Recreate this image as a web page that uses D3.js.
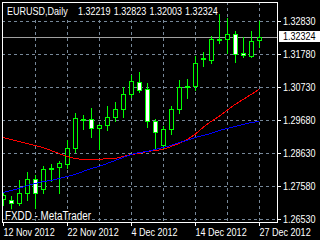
<!DOCTYPE html>
<html>
<head>
<meta charset="utf-8">
<script src="https://cdn.jsdelivr.net/npm/d3@7"></script>
<style>
  html, body { margin: 0; padding: 0; background: #000; overflow: hidden; }
  svg { display: block; }
  text { font-family: "Liberation Sans Narrow", "Arial Narrow", "Liberation Sans", Arial, sans-serif; }
</style>
</head>
<body>
<svg></svg>
<script>
// daily bars, EURUSD
const dates = [
  "2012-11-12", "2012-11-13", "2012-11-14", "2012-11-15", "2012-11-16",
  "2012-11-19", "2012-11-20", "2012-11-21", "2012-11-22", "2012-11-23",
  "2012-11-26", "2012-11-27", "2012-11-28", "2012-11-29", "2012-11-30",
  "2012-12-03", "2012-12-04", "2012-12-05", "2012-12-06", "2012-12-07",
  "2012-12-10", "2012-12-11", "2012-12-12", "2012-12-13", "2012-12-14",
  "2012-12-17", "2012-12-18", "2012-12-19", "2012-12-20", "2012-12-21",
  "2012-12-24", "2012-12-26", "2012-12-27"
];
const open = [
  1.27175, 1.27127, 1.27048, 1.27366, 1.27810, 1.27494, 1.28121, 1.28192, 1.28287, 1.28795,
  1.29680, 1.29717, 1.29431, 1.29526, 1.29780, 1.30034, 1.30511, 1.30892, 1.30670, 1.29653,
  1.28890, 1.29399, 1.30034, 1.30730, 1.30765, 1.31621, 1.31591, 1.32225, 1.32258, 1.32417,
  1.31813, 1.31718, 1.32219
];
const high = [
  1.27397, 1.27270, 1.27779, 1.28033, 1.27938, 1.28223, 1.28287, 1.28382, 1.29050, 1.29907,
  1.29844, 1.30066, 1.29558, 1.30130, 1.30257, 1.30733, 1.31114, 1.31210, 1.30860, 1.29717,
  1.29494, 1.30130, 1.30956, 1.30987, 1.31718, 1.31845, 1.32353, 1.33052, 1.32925, 1.32512,
  1.32322, 1.32512, 1.32823
];
const low = [
  1.26985, 1.26826, 1.26985, 1.27143, 1.26890, 1.27366, 1.27747, 1.27366, 1.28160, 1.28669,
  1.29399, 1.29145, 1.28764, 1.29367, 1.29653, 1.29780, 1.30416, 1.30574, 1.29462, 1.28795,
  1.28764, 1.29240, 1.29907, 1.30384, 1.30638, 1.31400, 1.31496, 1.32131, 1.31813, 1.31527,
  1.31686, 1.31686, 1.32003
];
const close = [
  1.27302, 1.27048, 1.27366, 1.27810, 1.27366, 1.28128, 1.28153, 1.28319, 1.28795, 1.29748,
  1.29712, 1.29431, 1.29526, 1.29780, 1.30034, 1.30511, 1.30924, 1.30638, 1.29653, 1.29303,
  1.29399, 1.30034, 1.30733, 1.30762, 1.31496, 1.31653, 1.32258, 1.32257, 1.32417, 1.31782,
  1.31734, 1.32195, 1.32324
];
// moving averages
const maRed = [
  1.29145, 1.29081, 1.29018, 1.28954, 1.28891, 1.28827, 1.28732, 1.28636, 1.28541, 1.28478,
  1.28446, 1.28446, 1.28430, 1.28462, 1.28478, 1.28525, 1.28589, 1.28636, 1.28684, 1.28716,
  1.28763, 1.28843, 1.28954, 1.29081, 1.29240, 1.29462, 1.29653, 1.29812, 1.30003, 1.30177,
  1.30352, 1.30511, 1.30670
];
const maBlue = [
  1.27397, 1.27461, 1.27524, 1.27604, 1.27683, 1.27731, 1.27779, 1.27842, 1.27890, 1.27969,
  1.28065, 1.28144, 1.28223, 1.28319, 1.28414, 1.28509, 1.28605, 1.28668, 1.28700, 1.28763,
  1.28827, 1.28891, 1.28970, 1.29049, 1.29145, 1.29208, 1.29272, 1.29351, 1.29431, 1.29494,
  1.29558, 1.29605, 1.29653
];
const priceTicks = [1.32830, 1.31780, 1.30730, 1.29680, 1.28630, 1.27580, 1.26530];
const dateTicks = [0, 8, 16, 24, 32];
const lastQuote = [1.32219, 1.32823, 1.32003, 1.32324];
const symbolLabel = "EURUSD,Daily";
const brokerLabel = "FXDD - MetaTrader";

const width = 320, height = 240;
const frame = { left: 2, top: 2, right: 277, bottom: 222 };
const lime = "#00ff00", gridColor = "#778899";

const svg = d3.select("svg").attr("width", width).attr("height", height);
svg.append("rect").attr("width", width).attr("height", height).attr("fill", "#000");

const x = d3.scaleLinear().domain([0, dates.length - 1]).range([3, 259]);
const y = d3.scaleLinear().domain([1.26530, 1.32830]).range([219, 21]);
const px = v => Math.round(v) + 0.5;
const parseDate = d3.timeParse("%Y-%m-%d");
const fmtDate = d3.timeFormat("%-d %b %Y");
const fmtPrice = d3.format(".5f");

svg.append("clipPath").attr("id", "plot")
  .append("rect")
  .attr("x", frame.left + 1).attr("y", frame.top + 1)
  .attr("width", frame.right - frame.left - 1).attr("height", frame.bottom - frame.top - 1);

const plot = svg.append("g").attr("clip-path", "url(#plot)").attr("shape-rendering", "crispEdges");

// grid
plot.selectAll(".hgrid").data(priceTicks).join("line")
  .attr("x1", frame.left).attr("x2", frame.right)
  .attr("y1", d => px(y(d))).attr("y2", d => px(y(d)))
  .attr("stroke", gridColor).attr("stroke-dasharray", "3,3");

plot.selectAll(".vgrid").data(d3.range(4, dates.length, 4)).join("line")
  .attr("x1", d => px(x(d))).attr("x2", d => px(x(d)))
  .attr("y1", frame.top).attr("y2", frame.bottom)
  .attr("stroke", gridColor).attr("stroke-dasharray", "3,3");

// bid line
const bid = lastQuote[3];
plot.append("line")
  .attr("x1", frame.left).attr("x2", frame.right)
  .attr("y1", px(y(bid))).attr("y2", px(y(bid)))
  .attr("stroke", "#a0a0a0");

// candles
const bars = d3.range(dates.length);
plot.selectAll(".wick").data(bars).join("line")
  .attr("x1", i => px(x(i))).attr("x2", i => px(x(i)))
  .attr("y1", i => Math.round(y(high[i]))).attr("y2", i => Math.round(y(low[i])) + 1)
  .attr("stroke", lime);

plot.selectAll(".body").data(bars).join("rect")
  .attr("x", i => Math.round(x(i)) - 2 + 0.5)
  .attr("width", 4)
  .attr("y", i => Math.round(y(Math.max(open[i], close[i]))) + 0.5)
  .attr("height", i => Math.max(0, Math.round(y(Math.min(open[i], close[i]))) - Math.round(y(Math.max(open[i], close[i])))))
  .attr("fill", i => close[i] > open[i] ? "#000" : "#fff")
  .attr("stroke", lime);

// moving averages
const maLine = arr => d3.line().x((d, i) => x(i)).y(d => Math.round(y(d)) + 0.5)(arr);
plot.append("path").attr("d", maLine(maRed)).attr("fill", "none").attr("stroke", "#ff0000");
plot.append("path").attr("d", maLine(maBlue)).attr("fill", "none").attr("stroke", "#0000ff");

// frame
svg.append("rect")
  .attr("x", frame.left + 0.5).attr("y", frame.top + 0.5)
  .attr("width", frame.right - frame.left).attr("height", frame.bottom - frame.top)
  .attr("fill", "none").attr("stroke", "#fff").attr("shape-rendering", "crispEdges");

// axes
const yAxis = svg.append("g")
  .attr("transform", `translate(${frame.right + 1},0)`)
  .call(d3.axisRight(y).tickValues(priceTicks).tickFormat(fmtPrice).tickSize(3).tickPadding(2));
const xAxis = svg.append("g")
  .attr("transform", `translate(0,${frame.bottom + 1})`)
  .call(d3.axisBottom(x).tickValues(dateTicks).tickFormat(i => fmtDate(parseDate(dates[i]))).tickSize(3).tickPadding(2));

[yAxis, xAxis].forEach(g => {
  g.select(".domain").remove();
  g.selectAll(".tick line").attr("stroke", "#fff").attr("shape-rendering", "crispEdges");
  g.selectAll(".tick text").attr("fill", "#fff").attr("font-size", 11)
    .attr("font-family", null);
});
xAxis.selectAll(".tick text").attr("text-anchor", "start").attr("x", 0);

// current price marker
svg.append("rect").attr("x", 279).attr("y", Math.round(y(bid)) - 6)
  .attr("width", 41).attr("height", 11).attr("fill", "#fff");
svg.append("text").attr("x", 283).attr("y", Math.round(y(bid)) - 0.5).attr("dy", "0.32em")
  .attr("font-size", 11).attr("fill", "#000").text(fmtPrice(bid));

// title
svg.append("rect").attr("x", frame.left + 1).attr("y", frame.top + 1)
  .attr("width", 216).attr("height", 14).attr("fill", "#000");
svg.append("text").attr("x", 7).attr("y", 15).attr("font-size", 11).attr("fill", "#fff").text(symbolLabel);
svg.selectAll(".quote").data(lastQuote).join("text")
  .attr("x", (d, i) => 78 + i * 35.7).attr("y", 15)
  .attr("font-size", 11).attr("fill", "#fff").text(d => fmtPrice(d));

// broker watermark
svg.append("text").attr("x", 5).attr("y", 220)
  .attr("font-size", 12).attr("fill", "#fff")
  .attr("stroke", "#000").attr("stroke-width", 3).attr("paint-order", "stroke")
  .text(brokerLabel);

// the terminal font is narrow: squeeze every label horizontally
svg.selectAll("text").each(function () {
  const w = this.getComputedTextLength();
  d3.select(this).attr("textLength", w * 0.82).attr("lengthAdjust", "spacingAndGlyphs");
});
</script>
</body>
</html>
